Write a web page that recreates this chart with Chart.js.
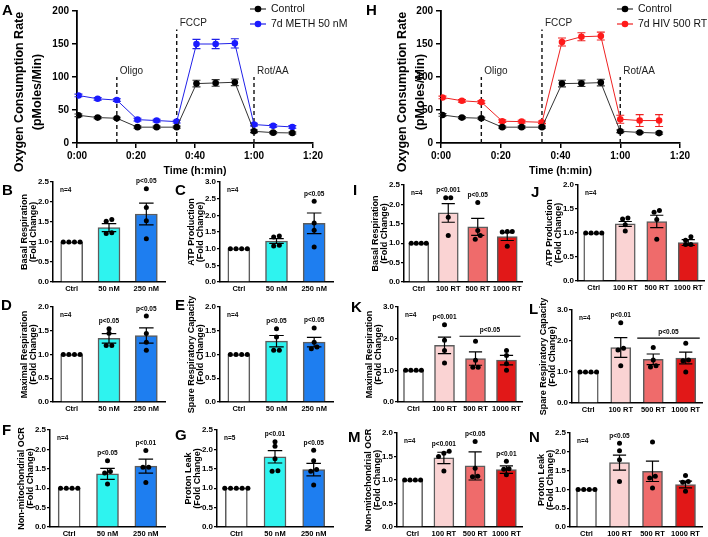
<!DOCTYPE html>
<html>
<head>
<meta charset="utf-8">
<script src="https://cdn.jsdelivr.net/npm/chart.js@4.4.0/dist/chart.umd.min.js"></script>
<style>
  body { margin: 0; width: 708px; height: 537px; background: #fff; position: relative; overflow: hidden; font-family: "Liberation Sans", Arial, sans-serif; }
  canvas { position: absolute; }
  .lt { position: absolute; font-weight: bold; font-size: 15px; line-height: 15px; color: #000; z-index: 5; }
</style>
</head>
<body>
<div class="lt" style="left:2px;top:2px">A</div>
<div class="lt" style="left:366px;top:2px">H</div>
<div class="lt" style="left:2px;top:182px">B</div>
<div class="lt" style="left:175px;top:182px">C</div>
<div class="lt" style="left:353px;top:182px">I</div>
<div class="lt" style="left:531px;top:184px">J</div>
<div class="lt" style="left:1px;top:297px">D</div>
<div class="lt" style="left:175px;top:297px">E</div>
<div class="lt" style="left:351px;top:299px">K</div>
<div class="lt" style="left:529px;top:301px">L</div>
<div class="lt" style="left:2px;top:422px">F</div>
<div class="lt" style="left:175px;top:427px">G</div>
<div class="lt" style="left:348px;top:429px">M</div>
<div class="lt" style="left:529px;top:429px">N</div>
<script>
// ---- time course (A, H) ----
const timePoints = [0.5, 7, 13.5, 20.5, 27, 33.8, 40.5, 47, 53.5, 60, 66.5, 73];
const timeTicks = [0, 20, 40, 60, 80];
const ctrlOcrA = [42, 38.5, 37.5, 24, 24, 24, 90, 91, 92, 17.7, 15.7, 15.2];
const ctrlErrA = [2, 1.5, 1.5, 1.5, 1.5, 1.5, 5, 5, 5, 2, 1.5, 1.5];
const methOcr = [72, 67, 65, 35.4, 34, 32.4, 150, 150, 151, 28, 26, 24.3];
const methErr = [2, 2, 2, 2, 2, 2, 7, 7, 7, 2, 2, 2];
const ctrlOcrH = [42.5, 38.5, 37.5, 24, 24, 24, 90, 90.5, 91.5, 17.7, 16, 15];
const ctrlErrH = [2, 1.5, 1.5, 1.5, 1.5, 1.5, 5, 5, 5, 2, 1.5, 1.5];
const hivOcr = [69, 64, 62, 33, 32.4, 31.4, 153, 161, 162, 36, 34, 34];
const hivErr = [2, 2, 2, 2, 2, 2, 6, 6, 6, 6, 9, 9];
const injectLabels = ['Oligo', 'FCCP', 'Rot/AA'];
const injectTimes = [13.5, 33.8, 60];
const injectTops = [100, 172, 100];

// ---- groups ----
const methGroups = ['Ctrl', '50 nM', '250 nM'];
const hivGroups = ['Ctrl', '100 RT', '500 RT', '1000 RT'];

// B basal (METH)
const basalMethMean = [1, 1.36, 1.70];
const basalMethSem = [0, 0.1, 0.27];
const basalMethPts = [[1, 1, 1, 1], [1.52, 1.56, 1.23, 1.21], [2.33, 1.86, 1.53, 1.08]];
const basalMethP = ['', '', 'p<0.05'];
// C ATP (METH)
const atpMethMean = [1, 1.23, 1.76];
const atpMethSem = [0, 0.07, 0.31];
const atpMethPts = [[1, 1, 1, 1], [1.38, 1.35, 1.08, 1.1], [2.42, 1.77, 1.55, 1.05]];
const atpMethP = ['', '', 'p<0.05'];
// D maximal (METH)
const maxMethMean = [1, 1.34, 1.40];
const maxMethSem = [0, 0.1, 0.16];
const maxMethPts = [[1, 1, 1, 1], [1.54, 1.45, 1.19, 1.19], [1.81, 1.44, 1.26, 1.09]];
const maxMethP = ['', 'p<0.05', 'p<0.05'];
// E spare (METH)
const spareMethMean = [1, 1.28, 1.26];
const spareMethSem = [0, 0.12, 0.1];
const spareMethPts = [[1, 1, 1, 1], [1.54, 1.37, 1.09, 1.09], [1.56, 1.26, 1.16, 1.12]];
const spareMethP = ['', 'p<0.05', 'p<0.05'];
// F non-mito (METH)
const nonMitoMethMean = [1, 1.37, 1.57];
const nonMitoMethSem = [0, 0.14, 0.18];
const nonMitoMethPts = [[1, 1, 1, 1], [1.71, 1.43, 1.39, 1.11], [1.97, 1.54, 1.54, 1.15]];
const nonMitoMethP = ['', 'p<0.05', 'p<0.01'];
// G proton leak (METH)
const leakMethMean = [1, 1.81, 1.48];
const leakMethSem = [0, 0.16, 0.16];
const leakMethPts = [[1, 1, 1, 1, 1], [2.2, 2.08, 1.76, 1.45, 1.44], [1.98, 1.71, 1.48, 1.44, 1.08]];
const leakMethP = ['', 'p<0.01', 'p<0.05'];

// I basal (HIV)
const basalHivMean = [1, 1.78, 1.42, 1.17];
const basalHivSem = [0, 0.24, 0.22, 0.1];
const basalHivPts = [[1, 1, 1, 1], [2.17, 2.17, 1.67, 1.2], [2.05, 1.33, 1.2, 1.1], [1.29, 1.3, 1.3, 0.92]];
const basalHivP = ['', 'p<0.001', 'p<0.05', ''];
// J ATP (HIV)
const atpHivMean = [1, 1.19, 1.24, 0.8];
const atpHivSem = [0, 0.05, 0.13, 0.06];
const atpHivPts = [[1, 1, 1, 1], [1.29, 1.31, 1.17, 1.04], [1.43, 1.47, 1.28, 0.87], [0.85, 0.92, 0.76, 0.76]];
const atpHivP = ['', '', '', ''];
// K maximal (HIV)
const maxHivMean = [1, 1.79, 1.37, 1.32];
const maxHivSem = [0, 0.26, 0.21, 0.15];
const maxHivPts = [[1, 1, 1, 1], [2.44, 1.95, 1.63, 1.23], [1.92, 1.32, 1.1, 1.1], [1.63, 1.47, 1.21, 1.0]];
const maxHivP = ['', 'p<0.001', '', ''];
// L spare (HIV)
const spareHivMean = [1, 1.79, 1.41, 1.45];
const spareHivSem = [0, 0.32, 0.17, 0.19];
const spareHivPts = [[1, 1, 1, 1], [2.59, 1.77, 1.71, 1.2], [1.79, 1.39, 1.2, 1.16], [1.93, 1.39, 1.36, 1.0]];
const spareHivP = ['', 'p<0.01', '', ''];
// M non-mito (HIV)
const nonMitoHivMean = [1, 1.47, 1.3, 1.22];
const nonMitoHivSem = [0, 0.12, 0.3, 0.08];
const nonMitoHivPts = [[1, 1, 1, 1], [1.61, 1.57, 1.5, 1.19], [1.82, 1.25, 1.08, 1.07], [1.4, 1.24, 1.23, 1.11]];
const nonMitoHivP = ['', 'p<0.001', 'p<0.05', 'p<0.01'];
// N proton leak (HIV)
const leakHivMean = [1, 1.71, 1.48, 1.13];
const leakHivSem = [0, 0.2, 0.27, 0.09];
const leakHivPts = [[1, 1, 1, 1], [2.23, 2.03, 1.79, 1.21], [2.26, 1.35, 1.3, 1.04], [1.37, 1.21, 1.19, 0.95]];
const leakHivP = ['', 'p<0.05', '', ''];

const methColors = ['#ffffff', '#2ef3ef', '#1e7ef0'];
const hivColors = ['#ffffff', '#fad3d3', '#ef6b6b', '#e11818'];

const FONT = '"Liberation Sans", Arial, sans-serif';
Chart.defaults.font.family = FONT;
Chart.defaults.color = '#000';
Chart.defaults.animation = false;
Chart.defaults.plugins.legend.display = false;
Chart.defaults.plugins.tooltip.enabled = false;

function makeCanvas(left, top, w, h) {
  const c = document.createElement('canvas');
  c.width = w; c.height = h;
  c.style.left = left + 'px'; c.style.top = top + 'px';
  c.style.width = w + 'px'; c.style.height = h + 'px';
  document.body.appendChild(c);
  return c;
}

function fmtTime(v) {
  return Math.floor(v / 60) + ':' + String(v % 60).padStart(2, '0');
}

/* line panel: time course with error bars, injection markers and legend */
function linePanel(cfg) {
  const b = cfg.box;
  const canvasH = 180;
  const canvas = makeCanvas(b.cl, 0, b.right - b.cl + b.padR, canvasH);
  const series = cfg.series.map(s => ({
    label: s.label,
    data: timePoints.map((t, i) => ({ x: t, y: s.values[i] })),
    errors: s.errors,
    borderColor: s.line,
    borderWidth: 1,
    pointRadius: 3.3,
    pointBackgroundColor: s.dot,
    pointBorderWidth: 0,
    tension: 0
  }));
  const marks = {
    id: 'marks',
    beforeDatasetsDraw(chart) {
      const { ctx, scales: { x, y } } = chart;
      ctx.save();
      ctx.strokeStyle = '#111'; ctx.lineWidth = 1.4; ctx.setLineDash([4, 3]);
      ctx.fillStyle = '#222'; ctx.font = '10px ' + FONT;
      ctx.textAlign = 'left'; ctx.textBaseline = 'bottom';
      injectTimes.forEach((t, i) => {
        const px = x.getPixelForValue(t);
        const top = y.getPixelForValue(injectTops[i]);
        ctx.beginPath(); ctx.moveTo(px, y.getPixelForValue(0)); ctx.lineTo(px, top); ctx.stroke();
        ctx.fillText(injectLabels[i], px + 3, top - 1);
      });
      ctx.setLineDash([]);
      chart.data.datasets.forEach(ds => {
        ctx.strokeStyle = ds.borderColor; ctx.lineWidth = 1.1;
        ds.data.forEach((p, i) => {
          const px = x.getPixelForValue(p.x);
          const t = y.getPixelForValue(p.y + ds.errors[i]);
          const bt = y.getPixelForValue(p.y - ds.errors[i]);
          ctx.beginPath();
          ctx.moveTo(px, t); ctx.lineTo(px, bt);
          ctx.moveTo(px - 4, t); ctx.lineTo(px + 4, t);
          ctx.moveTo(px - 4, bt); ctx.lineTo(px + 4, bt);
          ctx.stroke();
        });
      });
      ctx.restore();
    },
    afterDraw(chart) {
      const { ctx, chartArea: a } = chart;
      ctx.save();
      // y axis title, centred on the whole axis block like the original
      ctx.fillStyle = '#000';
      ctx.font = 'bold 12.5px ' + FONT;
      ctx.textAlign = 'center'; ctx.textBaseline = 'middle';
      ctx.translate(b.tx - b.cl, 92);
      ctx.rotate(-Math.PI / 2);
      ctx.fillText('Oxygen Consumption Rate', 0, 0);
      ctx.fillText('(pMoles/Min)', 0, 17.5);
      ctx.restore();
      ctx.save();
      ctx.font = '10.5px ' + FONT; ctx.textBaseline = 'middle'; ctx.textAlign = 'left';
      chart.data.datasets.forEach((ds, i) => {
        const ly = a.top - 2 + i * 15;
        ctx.strokeStyle = ds.borderColor; ctx.lineWidth = 1.2;
        ctx.beginPath(); ctx.moveTo(a.right - 63, ly); ctx.lineTo(a.right - 47, ly); ctx.stroke();
        ctx.fillStyle = ds.pointBackgroundColor;
        ctx.beginPath(); ctx.arc(a.right - 55, ly, 3.3, 0, Math.PI * 2); ctx.fill();
        ctx.fillStyle = '#111';
        ctx.fillText(ds.label, a.right - 42, ly + 0.5);
      });
      ctx.restore();
    }
  };
  new Chart(canvas, {
    type: 'line',
    data: { datasets: series },
    options: {
      responsive: false,
      devicePixelRatio: 1,
      layout: { padding: { top: b.top, right: b.padR, left: 0, bottom: 0 } },
      scales: {
        x: {
          type: 'linear', min: 0, max: 80,
          afterBuildTicks: s => { s.ticks = timeTicks.map(v => ({ value: v })); },
          afterFit: s => { s.height = canvasH - b.bottom; },
          ticks: { callback: v => fmtTime(v), font: { size: 10, weight: 'bold' }, padding: 2, maxRotation: 0 },
          grid: { drawOnChartArea: false, tickLength: 5, color: '#000', lineWidth: 1.5 },
          border: { color: '#000', width: 1.8 },
          title: { display: true, text: 'Time (h:min)', font: { size: 10.5, weight: 'bold' }, padding: { top: 0, bottom: 3 } }
        },
        y: {
          min: 0, max: 200,
          afterFit: s => { s.width = b.axisX - b.cl; },
          ticks: { stepSize: 50, font: { size: 10, weight: 'bold' }, padding: 3 },
          grid: { drawOnChartArea: false, tickLength: 5, color: '#000', lineWidth: 1.5 },
          border: { color: '#000', width: 1.8 }
        }
      }
    },
    plugins: [marks]
  });
}

/* spread replicate dots sideways when their values sit close together */
function spread(vals, thr, step) {
  const sorted = vals.slice().sort((a, b) => a - b);
  const out = [];
  let group = [];
  const flush = () => {
    group.forEach((v, k) => out.push({ v, dx: (k - (group.length - 1) / 2) * step }));
    group = [];
  };
  sorted.forEach(v => {
    if (group.length && v - group[group.length - 1] >= thr) flush();
    group.push(v);
  });
  flush();
  return out;
}

/* bar panel: mean bars, SEM, replicate dots, n and p labels */
function barPanel(cfg) {
  const b = cfg.box;
  const n = cfg.groups.length;
  const padTop = 22, axisH = 30;
  const titleLh = 9.5;
  const titleX = b.axisX - 28.5;
  const canvas = makeCanvas(b.cl, b.top - padTop, b.right - b.cl + 4, b.bottom - b.top + padTop + axisH);
  const barW = n === 3 ? 22 : 20;
  const dots = [];
  cfg.points.forEach((vals, i) => {
    spread(vals, cfg.yMax * 0.04, n === 3 ? 0.15 : 0.17).forEach(p => dots.push({ x: i + p.dx, y: p.v }));
  });
  const groupTop = i => Math.max(cfg.mean[i] + cfg.sem[i], ...cfg.points[i]);
  const marks = {
    id: 'barMarks',
    afterDatasetDraw(chart, args) {
      if (args.index !== 0) return;
      const { ctx } = chart;
      const y = chart.scales.y;
      ctx.save();
      ctx.strokeStyle = '#000'; ctx.lineWidth = 1.2;
      args.meta.data.forEach((bar, i) => {
        const s = cfg.sem[i];
        if (!s) return;
        const t = y.getPixelForValue(cfg.mean[i] + s);
        const bt = y.getPixelForValue(cfg.mean[i] - s);
        const w = barW * 0.33;
        ctx.beginPath();
        ctx.moveTo(bar.x, t); ctx.lineTo(bar.x, bt);
        ctx.moveTo(bar.x - w, t); ctx.lineTo(bar.x + w, t);
        ctx.moveTo(bar.x - w, bt); ctx.lineTo(bar.x + w, bt);
        ctx.stroke();
      });
      ctx.restore();
    },
    afterDraw(chart) {
      const { ctx, chartArea: a } = chart;
      const x = chart.scales.x, y = chart.scales.y;
      ctx.save();
      ctx.fillStyle = '#000';
      ctx.font = 'bold 6.5px ' + FONT;
      ctx.textAlign = 'left'; ctx.textBaseline = 'middle';
      ctx.fillText(cfg.nText, a.left + 7, a.top + 8);
      ctx.textAlign = 'center'; ctx.textBaseline = 'bottom';
      cfg.pText.forEach((t, i) => {
        if (t) ctx.fillText(t, x.getPixelForValue(i), y.getPixelForValue(groupTop(i)) - 4);
      });
      if (cfg.bracket) {
        const br = cfg.bracket;
        const ly = y.getPixelForValue(Math.max(groupTop(br.from), groupTop(br.to))) - 5;
        const x0 = x.getPixelForValue(br.from) - barW / 2 - 6;
        const x1 = x.getPixelForValue(br.to) + barW / 2 + 4;
        ctx.strokeStyle = '#000'; ctx.lineWidth = 1.1;
        ctx.beginPath(); ctx.moveTo(x0, ly); ctx.lineTo(x1, ly); ctx.stroke();
        ctx.fillText(br.text, (x0 + x1) / 2, ly - 3);
      }
      ctx.restore();
    }
  };
  new Chart(canvas, {
    type: 'bar',
    data: {
      datasets: [
        { type: 'bar', data: cfg.mean.map((v, i) => ({ x: i, y: v })), backgroundColor: cfg.colors, borderColor: '#5c5c5c',
          borderWidth: 1.5, barThickness: barW, grouped: false, order: 2 },
        { type: 'scatter', data: dots, pointRadius: 2.5, pointBackgroundColor: '#000', pointBorderWidth: 0, order: 1 }
      ]
    },
    options: {
      responsive: false,
      devicePixelRatio: 1,
      layout: { padding: { top: padTop, right: 4, left: 0, bottom: 0 } },
      scales: {
        x: {
          type: 'linear', offset: false, min: -0.5, max: n - 0.5,
          afterBuildTicks: s => { s.ticks = cfg.groups.map((g, i) => ({ value: i })); },
          afterFit: s => { s.height = axisH; },
          ticks: { callback: v => cfg.groups[v], font: { size: 7.5, weight: 'bold' }, padding: 2, maxRotation: 0, autoSkip: false },
          grid: { display: false, drawTicks: false, tickLength: 0 },
          border: { color: '#000', width: 1.5 }
        },
        y: {
          min: 0, max: cfg.yMax,
          afterFit: s => { s.width = b.axisX - b.cl; },
          ticks: { stepSize: cfg.yStep, callback: v => v.toFixed(1), font: { size: 8, weight: 'bold' }, padding: 1 },
          grid: { drawOnChartArea: false, tickLength: 3, color: '#000', lineWidth: 1.3 },
          border: { color: '#000', width: 1.5 },
          title: {
            display: true, text: cfg.title,
            font: { size: 9, weight: 'bold', lineHeight: titleLh / 9 },
            padding: { top: titleX - b.cl - titleLh / 2, bottom: 0 }
          }
        }
      }
    },
    plugins: [marks]
  });
}

linePanel({
  box: { cl: 0, axisX: 77, top: 11, bottom: 143, right: 313, tx: 20, padR: 45 },
  series: [
    { label: 'Control', values: ctrlOcrA, errors: ctrlErrA, line: '#333333', dot: '#000000' },
    { label: '7d METH 50 nM', values: methOcr, errors: methErr, line: '#2020e8', dot: '#1a1aff' }
  ]
});
linePanel({
  box: { cl: 354, axisX: 441, top: 11, bottom: 143, right: 680, tx: 403, padR: 28 },
  series: [
    { label: 'Control', values: ctrlOcrH, errors: ctrlErrH, line: '#333333', dot: '#000000' },
    { label: '7d HIV 500 RT', values: hivOcr, errors: hivErr, line: '#ee2222', dot: '#ff1a1a' }
  ]
});

const fold = '(Fold Change)';
barPanel({ box: { cl: 0, axisX: 53, top: 182, bottom: 282, right: 165 }, groups: methGroups, colors: methColors,
  mean: basalMethMean, sem: basalMethSem, points: basalMethPts, pText: basalMethP, nText: 'n=4', yMax: 2.5, yStep: 0.5, title: ['Basal Respiration', fold] });
barPanel({ box: { cl: 176, axisX: 220, top: 182, bottom: 282, right: 333 }, groups: methGroups, colors: methColors,
  mean: atpMethMean, sem: atpMethSem, points: atpMethPts, pText: atpMethP, nText: 'n=4', yMax: 3.0, yStep: 0.5, title: ['ATP Production', fold] });
barPanel({ box: { cl: 0, axisX: 53, top: 307, bottom: 402, right: 165 }, groups: methGroups, colors: methColors,
  mean: maxMethMean, sem: maxMethSem, points: maxMethPts, pText: maxMethP, nText: 'n=4', yMax: 2.0, yStep: 0.5, title: ['Maximal Respiration', fold] });
barPanel({ box: { cl: 176, axisX: 220, top: 307, bottom: 402, right: 333 }, groups: methGroups, colors: methColors,
  mean: spareMethMean, sem: spareMethSem, points: spareMethPts, pText: spareMethP, nText: 'n=4', yMax: 2.0, yStep: 0.5, title: ['Spare Respiratory Capacity', fold] });
barPanel({ box: { cl: 0, axisX: 50, top: 430, bottom: 527, right: 165 }, groups: methGroups, colors: methColors,
  mean: nonMitoMethMean, sem: nonMitoMethSem, points: nonMitoMethPts, pText: nonMitoMethP, nText: 'n=4', yMax: 2.5, yStep: 0.5, title: ['Non-mitochondrial OCR', fold] });
barPanel({ box: { cl: 176, axisX: 217, top: 430, bottom: 527, right: 333 }, groups: methGroups, colors: methColors,
  mean: leakMethMean, sem: leakMethSem, points: leakMethPts, pText: leakMethP, nText: 'n=5', yMax: 2.5, yStep: 0.5, title: ['Proton Leak', fold] });

barPanel({ box: { cl: 356, axisX: 404, top: 185, bottom: 282, right: 522 }, groups: hivGroups, colors: hivColors,
  mean: basalHivMean, sem: basalHivSem, points: basalHivPts, pText: basalHivP, nText: 'n=4', yMax: 2.5, yStep: 0.5, title: ['Basal Respiration', fold] });
barPanel({ box: { cl: 530, axisX: 578, top: 185, bottom: 281, right: 704 }, groups: hivGroups, colors: hivColors,
  mean: atpHivMean, sem: atpHivSem, points: atpHivPts, pText: atpHivP, nText: 'n=4', yMax: 2.0, yStep: 0.5, title: ['ATP Production', fold] });
barPanel({ box: { cl: 356, axisX: 398, top: 307, bottom: 402, right: 522 }, groups: hivGroups, colors: hivColors,
  mean: maxHivMean, sem: maxHivSem, points: maxHivPts, pText: maxHivP, nText: 'n=4', yMax: 3.0, yStep: 1, title: ['Maximal Respiration', fold],
  bracket: { from: 2, to: 3, text: 'p<0.05' } });
barPanel({ box: { cl: 530, axisX: 572, top: 310, bottom: 403, right: 702 }, groups: hivGroups, colors: hivColors,
  mean: spareHivMean, sem: spareHivSem, points: spareHivPts, pText: spareHivP, nText: 'n=4', yMax: 3.0, yStep: 1, title: ['Spare Respiratory Capacity', fold],
  bracket: { from: 2, to: 3, text: 'p<0.05' } });
barPanel({ box: { cl: 356, axisX: 397, top: 433, bottom: 527, right: 522 }, groups: hivGroups, colors: hivColors,
  mean: nonMitoHivMean, sem: nonMitoHivSem, points: nonMitoHivPts, pText: nonMitoHivP, nText: 'n=4', yMax: 2.0, yStep: 0.5, title: ['Non-mitochondrial OCR', fold] });
barPanel({ box: { cl: 530, axisX: 570, top: 433, bottom: 527, right: 702 }, groups: hivGroups, colors: hivColors,
  mean: leakHivMean, sem: leakHivSem, points: leakHivPts, pText: leakHivP, nText: 'n=4', yMax: 2.5, yStep: 0.5, title: ['Proton Leak', fold] });
</script>
</body>
</html>
